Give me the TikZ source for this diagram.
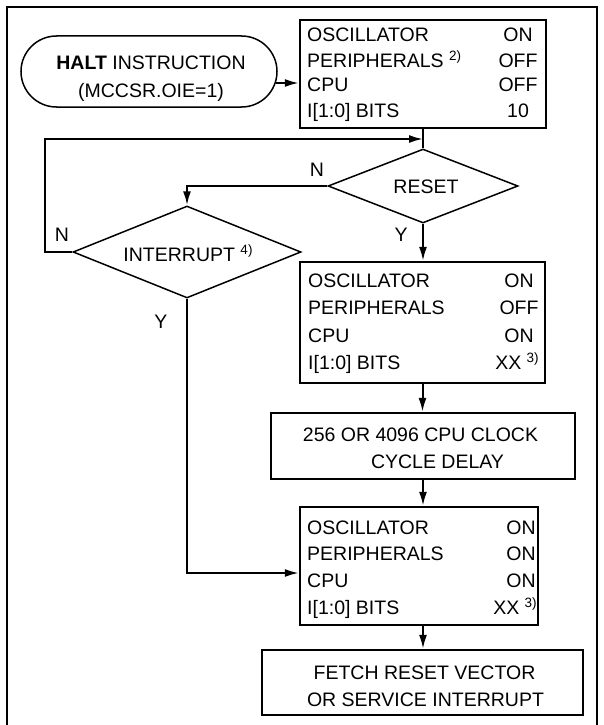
\documentclass[tikz,border=0pt]{standalone}
\usepackage{fontspec}
\setmainfont{Liberation Sans}
\usetikzlibrary{arrows.meta,shapes.geometric}
\newcommand\supx[1]{\raisebox{6.5pt}{\fontsize{13.5}{13.5}\selectfont #1}}
\newcommand\rowtxt[6]{%
  \node[txt,anchor=base west] (#1l) at (#2,#4+7) {#5};
  \node[txt,anchor=base] (#1r) at (#3,#4+7) {#6};}
\begin{document}
\begin{tikzpicture}[x=1pt,y=-1pt,
  txt/.style={inner sep=0pt,font=\fontsize{19.5}{23}\selectfont},
  box/.style={draw,line width=2.3pt,inner sep=0pt},
  dia/.style={draw,diamond,line width=1.5pt,inner sep=0pt},
  term/.style={draw,line width=1.5pt,inner sep=0pt,rounded corners=35.5pt},
  ln/.style={line width=2pt},
  arr/.style={line width=2pt,-{Latex[length=14pt,width=8pt]}},
  frame/.style={line width=2.3pt}]
\useasboundingbox (0,0) rectangle (604,725);
% outer frame
\draw[frame] (7,727) -- (7,7) -- (597,7) -- (597,727);

% terminator
\node[term,minimum width=256pt,minimum height=71pt] (halt) at (149,71.5) {};
\node[txt,anchor=base] (halt1) at (151,70) {\textbf{HALT} INSTRUCTION};
\node[txt,anchor=base] (halt2) at (151,97) {(MCCSR.OIE=1)};

% box 1
\node[box,minimum width=246pt,minimum height=108pt] (b1) at (423,74) {};
\rowtxt{b1a}{307}{518}{35}{OSCILLATOR}{ON}
\rowtxt{b1b}{307}{518}{60}{PERIPHERALS \supx{2)}}{OFF}
\rowtxt{b1c}{307}{518}{85}{CPU}{OFF}
\rowtxt{b1d}{307}{518}{110}{I[1:0] BITS}{10}

% diamonds
\node[dia,minimum width=190pt,minimum height=74pt] (reset) at (423,186) {};
\node[txt,anchor=base] (resett) at (426,193) {RESET};
\node[dia,minimum width=228pt,minimum height=92pt] (intr) at (187,252) {};
\node[txt,anchor=base] (intrt) at (188,261) {INTERRUPT \supx{4)}};

% box 2
\node[box,minimum width=245pt,minimum height=121pt] (b2) at (422.5,322.5) {};
\rowtxt{b2a}{308}{519}{280}{OSCILLATOR}{ON}
\rowtxt{b2b}{308}{519}{307}{PERIPHERALS}{OFF}
\rowtxt{b2c}{308}{519}{335}{CPU}{ON}
\rowtxt{b2d}{308}{517}{362}{I[1:0] BITS}{XX \supx{3)}}

% box 3
\node[box,minimum width=304pt,minimum height=66pt] (b3) at (423,446) {};
\node[txt,anchor=base] (b3a) at (420.5,441) {256 OR 4096 CPU CLOCK};
\node[txt,anchor=base] (b3b) at (437.5,468) {CYCLE DELAY};

% box 4
\node[box,minimum width=238pt,minimum height=118pt] (b4) at (419,566) {};
\rowtxt{b4a}{307}{521}{527}{OSCILLATOR}{ON}
\rowtxt{b4b}{307}{521}{553}{PERIPHERALS}{ON}
\rowtxt{b4c}{307}{521}{580}{CPU}{ON}
\rowtxt{b4d}{307}{515}{607}{I[1:0] BITS}{XX \supx{3)}}

% box 5
\node[box,minimum width=321pt,minimum height=65pt] (b5) at (422.5,682.5) {};
\node[txt,anchor=base] (b5a) at (424.5,679) {FETCH RESET VECTOR};
\node[txt,anchor=base] (b5b) at (425.5,706) {OR SERVICE INTERRUPT};

% labels
\node[txt] (nres) at (317,170) {N};
\node[txt] (nint) at (62,235) {N};
\node[txt] (yres) at (401,235) {Y};
\node[txt] (yint) at (161,322) {Y};

% connectors
\coordinate (h1) at ([xshift=-2pt,yshift=-11.5pt]halt.east);
\draw[arr] (h1) -- (h1 -| b1.west);
\draw[ln] (b1.south) -- (reset.north);
\coordinate (j1) at (b1.south |- 0,139);
\coordinate (lp) at (45,139);
\draw[arr] (intr.west) -| (lp) -- (j1);
\draw[arr] (reset.west) -| (intr.north);
\draw[arr] (reset.south) -- (reset.south |- b2.north);
\draw[arr] (b2.south) -- (b2.south |- b3.north);
\draw[arr] (b3.south) -- (b3.south |- b4.north);
\draw[arr] (b3.south |- b4.south) -- (b3.south |- b5.north);
\coordinate (j2) at (b4.west |- 0,573);
\draw[arr] (intr.south) |- (j2);
\end{tikzpicture}
\end{document}
